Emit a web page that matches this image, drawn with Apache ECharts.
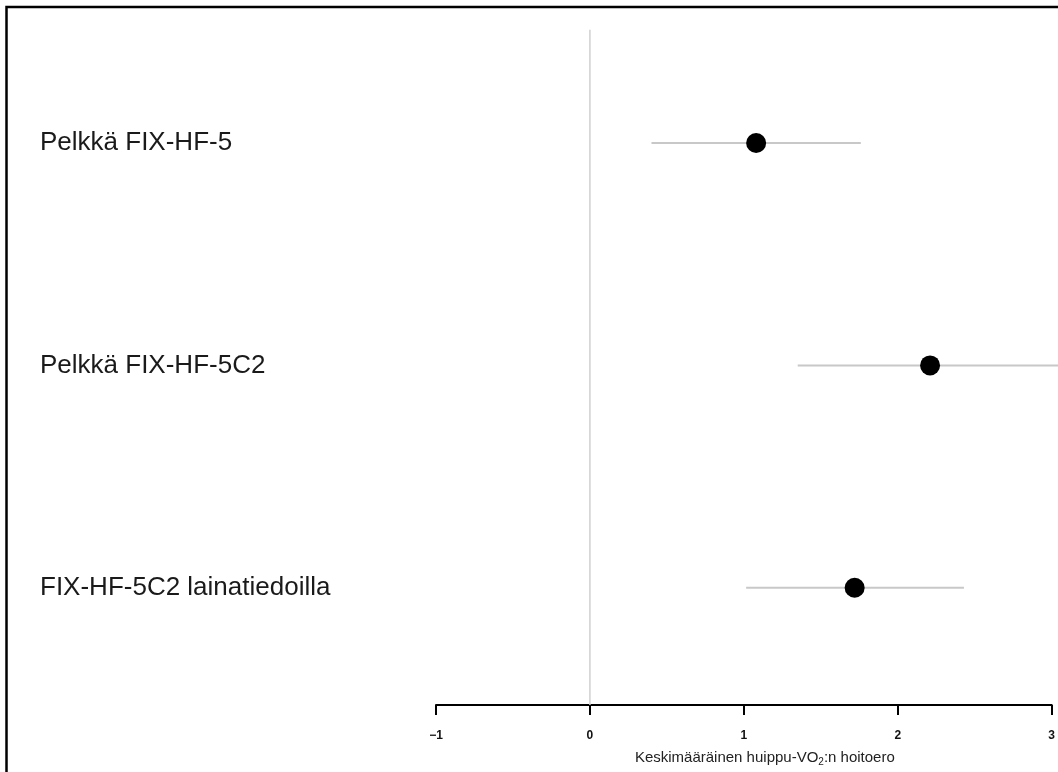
<!DOCTYPE html>
<html>
<head>
<meta charset="utf-8">
<script src="https://cdn.jsdelivr.net/npm/echarts@6/dist/echarts.min.js"></script>
<style>
html,body{margin:0;padding:0;background:#fff;}
#chart{width:1058px;height:772px;}
</style>
</head>
<body>
<div id="chart"></div>
<script>
const categories = ['Pelkkä FIX-HF-5', 'Pelkkä FIX-HF-5C2', 'FIX-HF-5C2 lainatiedoilla'];
const estimates = [1.08, 2.21, 1.72];
const lowerCI = [0.40, 1.35, 1.015];
const upperCI = [1.76, 3.10, 2.43];
const xTicks = [-1, 0, 1, 2, 3];
const refValue = [0];

const ciData = categories.map((c, i) => [lowerCI[i], upperCI[i], i]);
const pointData = categories.map((c, i) => [estimates[i], i]);

const chart = echarts.init(document.getElementById('chart'), null, {renderer: 'canvas'});
chart.setOption({
  animation: false,
  backgroundColor: '#ffffff',
  graphic: [{
    type: 'rect',
    shape: {x: 6.5, y: 7, width: 1100, height: 800},
    style: {fill: 'none', stroke: '#000', lineWidth: 2.5},
    silent: true
  }],
  grid: {left: 436, right: 4, top: 31.75, height: 667.5},
  xAxis: {
    type: 'value',
    min: xTicks[0], max: xTicks[xTicks.length - 1], interval: 1,
    offset: 6,
    splitLine: {show: false},
    axisLine: {show: true, lineStyle: {color: '#000', width: 2}},
    axisTick: {show: true, length: 10, lineStyle: {color: '#000', width: 2}},
    axisLabel: {
      margin: 25, fontSize: 12, fontWeight: 'bold', color: '#111',
      fontFamily: 'Liberation Sans, Arial, sans-serif',
      formatter: v => (v < 0 ? '\u2212' + Math.abs(v) : String(v))
    },
    name: '{a|Keskimääräinen huippu-VO}{s|2}{a|:n hoitoero}',
    nameLocation: 'middle',
    nameGap: 44,
    nameTextStyle: {
      padding: [0, 0, 0, 42],
      rich: {
        a: {fontSize: 15, color: '#222', fontFamily: 'Liberation Sans, Arial, sans-serif'},
        s: {fontSize: 10, color: '#222', fontFamily: 'Liberation Sans, Arial, sans-serif', padding: [8, 0, 0, 0]}
      }
    }
  },
  yAxis: {
    type: 'category',
    data: categories,
    inverse: true,
    axisLine: {show: false},
    axisTick: {show: false},
    splitLine: {show: false},
    axisLabel: {
      align: 'left', margin: 396, fontSize: 26, color: '#1a1a1a',
      fontFamily: 'Liberation Sans, Arial, sans-serif'
    }
  },
  series: [
    {
      type: 'custom',
      clip: false,
      z: 1,
      data: refValue.map(v => [v]),
      renderItem: function (params, api) {
        const cs = params.coordSys;
        const x = api.coord([api.value(0), 0])[0];
        return {
          type: 'line',
          shape: {x1: x, y1: cs.y - 2, x2: x, y2: cs.y + cs.height + 6},
          style: {stroke: '#d0d0d0', lineWidth: 1.5}
        };
      }
    },
    {
      type: 'custom',
      clip: false,
      z: 2,
      data: ciData,
      renderItem: function (params, api) {
        const p1 = api.coord([api.value(0), api.value(2)]);
        const p2 = api.coord([api.value(1), api.value(2)]);
        return {
          type: 'line',
          shape: {x1: p1[0], y1: p1[1], x2: p2[0], y2: p2[1]},
          style: {stroke: '#c8c8c8', lineWidth: 2}
        };
      }
    },
    {
      type: 'scatter',
      z: 3,
      data: pointData,
      symbol: 'circle',
      symbolSize: 20,
      itemStyle: {color: '#000', opacity: 1}
    }
  ]
});
</script>
</body>
</html>
